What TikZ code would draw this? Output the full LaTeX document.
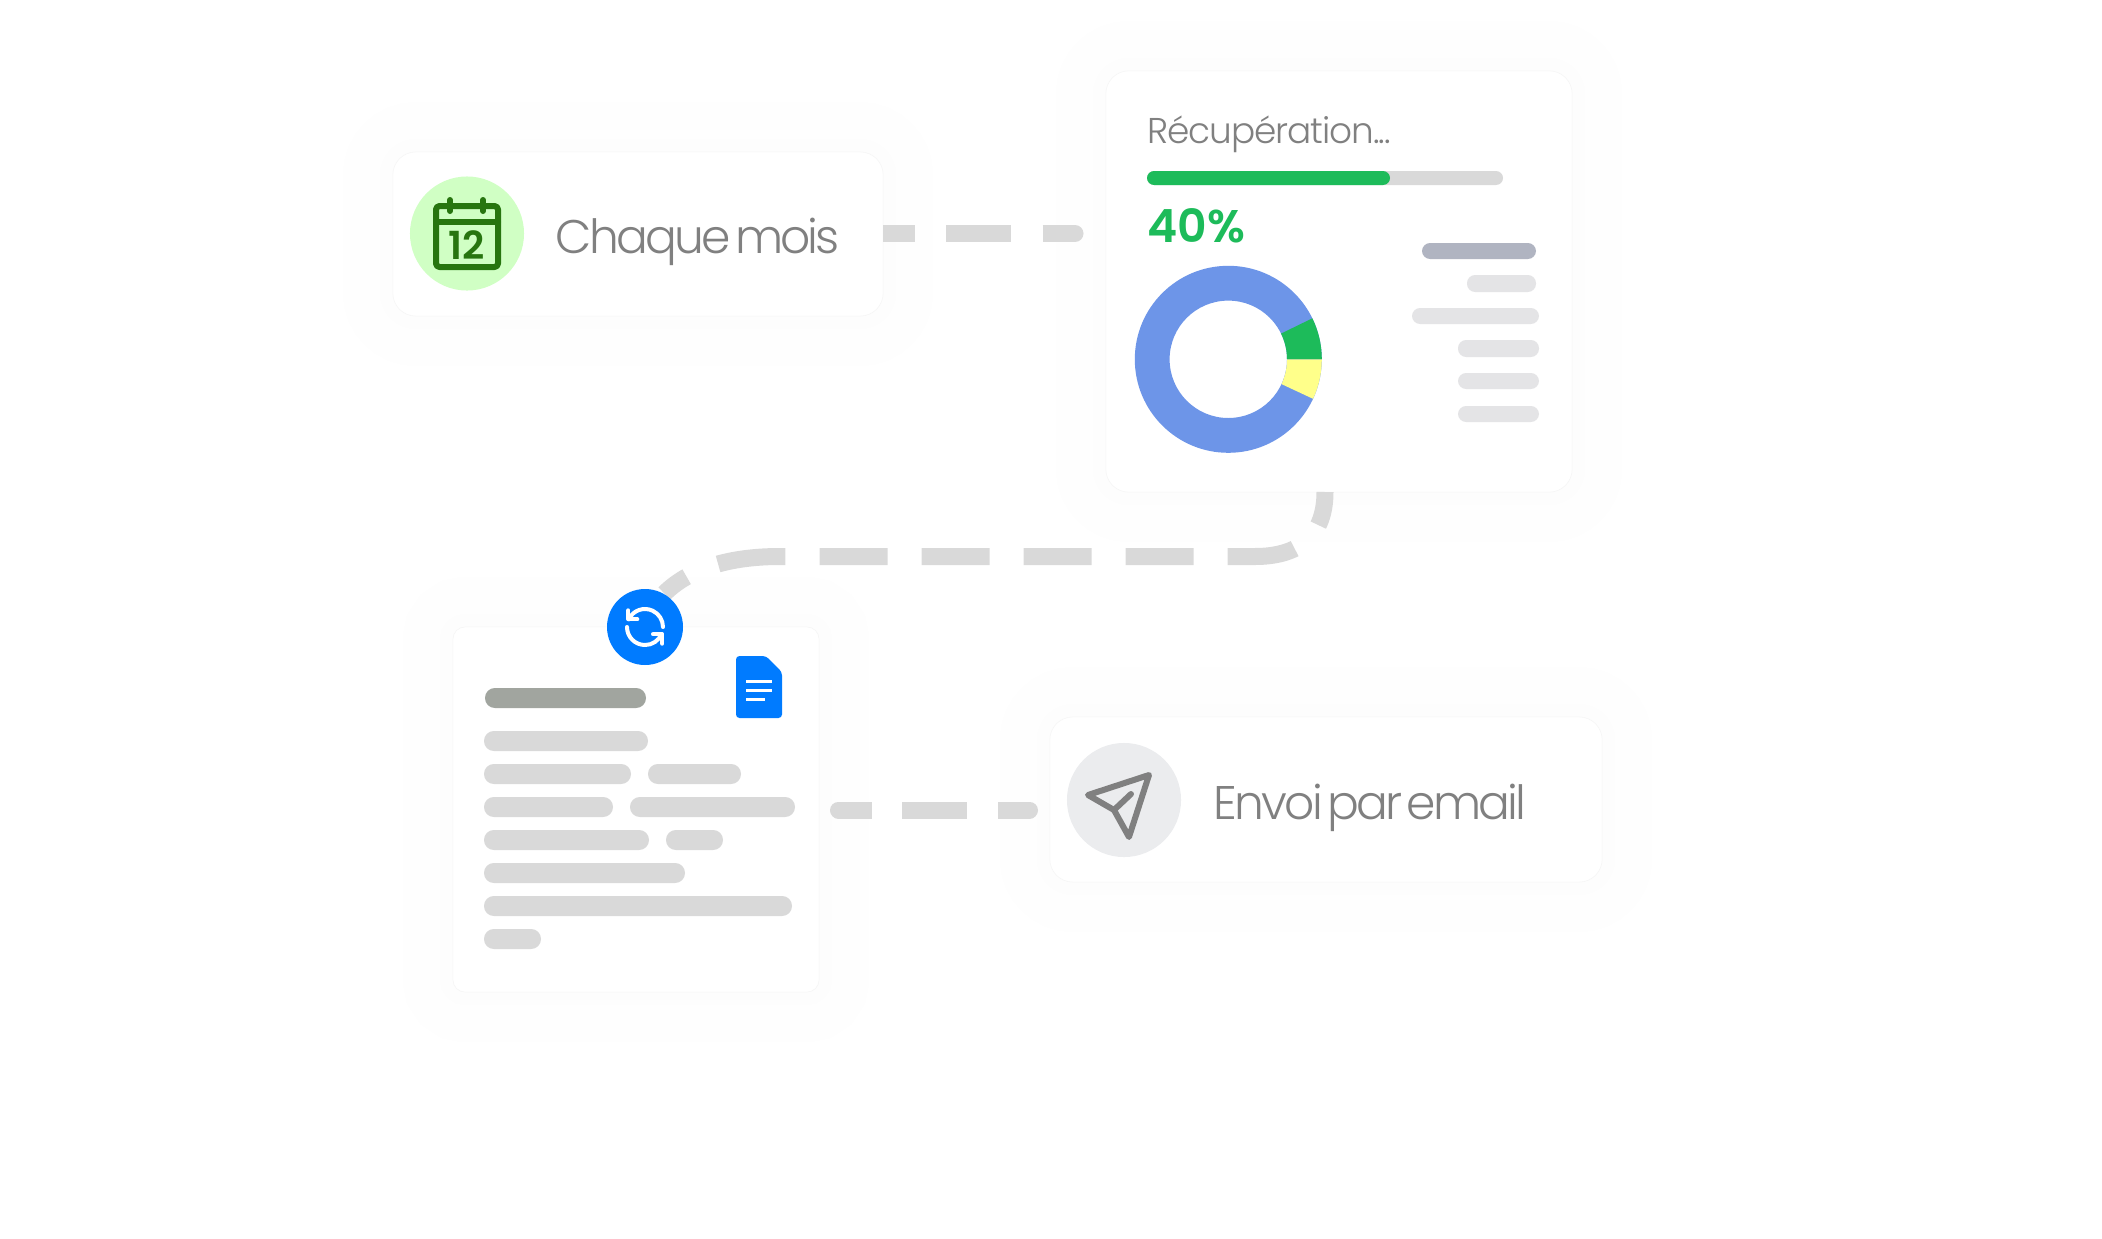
\documentclass[tikz,border=0pt]{standalone}
\usepackage{fontspec}
\newfontfamily\bigfont{Poppins}[UprightFont=* Light,LetterSpace=-6,WordSpace=0.45]
\newfontfamily\titlefont{Poppins}[UprightFont=* Light,LetterSpace=-3]
\newfontfamily\numfont{Poppins}[UprightFont=* SemiBold]
\definecolor{linkgray}{HTML}{D9D9D9}
\definecolor{skelgray}{HTML}{D9D9D9}
\definecolor{headgray}{HTML}{A1A59F}
\definecolor{legendgray}{HTML}{E4E4E6}
\definecolor{legendhead}{HTML}{B0B4C1}
\definecolor{mailgray}{HTML}{EBECEE}
\definecolor{okgreen}{HTML}{1DBB5A}
\definecolor{callight}{HTML}{D0FFC4}
\definecolor{caldark}{HTML}{27750F}
\definecolor{donutblue}{HTML}{6D95E8}
\definecolor{donutyellow}{HTML}{FFFF8A}
\definecolor{docblue}{HTML}{007BFF}
\definecolor{textgray}{HTML}{808080}
\tikzset{
  card/.style={rectangle,fill=white,draw=black!4,line width=0.15pt,rounded corners=6.5pt,inner sep=0pt,
    preaction={draw=black!0.3,line width=1.0cm},
    preaction={draw=black!0.5,line width=0.6cm},
    preaction={draw=black!0.8,line width=0.25cm}},
  skel/.style={fill=skelgray,rounded corners=2.8pt},
  legend/.style={fill=legendgray,rounded corners=2.3pt},
  link/.style={draw=linkgray,line width=0.17cm},
  bigtext/.style={font=\bigfont\fontsize{13.4pt}{16pt}\selectfont,text=textgray,inner sep=0pt,anchor=base west},
  badge/.style={circle,inner sep=0pt,minimum size=1.14cm},
  icon/.style={line width=0.06cm,line cap=round,line join=round},
  syncline/.style={white,line width=0.04cm,line cap=round,line join=round},
}
\begin{document}
\begin{tikzpicture}[x=0.01cm,y=-0.01cm]
  \useasboundingbox (0,0) rectangle (2102,1239);
  % cards
  \node[card,minimum width=4.9cm,minimum height=1.64cm] (month) at (638,234) {};
  \node[card,minimum width=4.66cm,minimum height=4.21cm] (report) at (1339,281.5) {};
  \node[card,minimum width=3.66cm,minimum height=3.65cm,rounded corners=3.5pt] (doc) at (636,809.5) {};
  \node[card,minimum width=5.52cm,minimum height=1.65cm] (mail) at (1326,799.5) {};
  \node[circle,inner sep=0pt,minimum size=0.76cm] (sync) at (645,627) {};

  % connectors
  \coordinate (monthstart) at (month.east |- 0,233.5);
  \coordinate (monthend) at (1074,233.5);
  \coordinate (reportout) at (1325,492);
  \coordinate (docout) at (838.5,810);
  \coordinate (mailin) at (1029.5,810);
  \draw[link,dash pattern=on 0.65cm off 0.31cm,dash phase=0.33cm] (monthstart) -- (monthend);
  \draw[link,line cap=round,dash pattern=on 0.01cm off 1cm] (monthend) -- ++(1,0);
  \draw[link,dash pattern=on 0.68cm off 0.34cm,dash phase=0.34cm] (reportout) .. controls (1325,535) and (1300,556.5) .. (1255,556.5) -- (780,556.5) .. controls (735,556.5) and (692,566) .. (sync.60);
  \draw[link,dash pattern=on 0.335cm off 0.30cm on 0.65cm off 0.31cm on 0.335cm off 1cm] (docout) -- (mailin);
  \draw[link,line cap=round,dash pattern=on 0.01cm off 3cm] (docout) -- ++(1,0);
  \draw[link,line cap=round,dash pattern=on 0.01cm off 3cm] (mailin) -- ++(-1,0);

  % month card
  \node[badge,fill=callight] (calcircle) at (467,233.5) {};
  \draw[caldark,icon,rounded corners=1pt] (436,206) rectangle (498,267);
  \draw[caldark,icon] (436,222) -- (498,222);
  \draw[caldark,icon] (450,200) -- (450,211);
  \draw[caldark,icon] (483,200) -- (483,211);
  \node[font=\numfont\fontsize{11pt}{12pt}\selectfont,text=caldark,inner sep=0pt] (calday) at (467,245.5) {12};
  \node[bigtext] (monthtext) at (555,253) {Chaque mois};

  % report card
  \node[bigtext,font=\titlefont\fontsize{10.2pt}{12pt}\selectfont] (reporttitle) at (1147,143) {Récupération...};
  \fill[skelgray,rounded corners=2pt] (1147,171) rectangle (1503,185);
  \fill[okgreen,rounded corners=2pt] (1147,171) rectangle (1390,185);
  \node[bigtext,font=\numfont\fontsize{13pt}{14pt}\selectfont,text=okgreen] (percent) at (1147,242) {40\%};
  \fill[donutblue,even odd rule] (1228.3,359.3) circle (93.5) (1228.3,359.3) circle (58.7);
  \fill[okgreen] (1228.3,359.3) ++(-26:93.5) arc[start angle=-26,end angle=0,radius=93.5] -- ++(-34.8,0) arc[start angle=0,end angle=-26,radius=58.7] -- cycle;
  \fill[donutyellow] (1228.3,359.3) ++(0:93.5) arc[start angle=0,end angle=25,radius=93.5] -- ++(-31.5,-14.7) arc[start angle=25,end angle=0,radius=58.7] -- cycle;
  \fill[legend,fill=legendhead] (1422,243) rectangle (1536,259);
  \fill[legend] (1467,275) rectangle (1536,292);
  \fill[legend] (1412,308) rectangle (1539,324);
  \fill[legend] (1458,340) rectangle (1539,357);
  \fill[legend] (1458,373) rectangle (1539,389);
  \fill[legend] (1458,406) rectangle (1539,422);

  % document card
  \fill[skel,fill=headgray] (485,688) rectangle (646,708);
  \fill[skel] (484,731) rectangle (648,751);
  \fill[skel] (484,764) rectangle (631,784);
  \fill[skel] (648,764) rectangle (741,784);
  \fill[skel] (484,797) rectangle (613,817);
  \fill[skel] (630,797) rectangle (795,817);
  \fill[skel] (484,830) rectangle (649,850);
  \fill[skel] (666,830) rectangle (723,850);
  \fill[skel] (484,863) rectangle (685,883);
  \fill[skel] (484,896) rectangle (792,916);
  \fill[skel] (484,929) rectangle (541,949);
  \fill[docblue,rounded corners=1pt] (736,656) -- (766,656) -- (782,672) -- (782,718) -- (736,718) -- cycle;
  \draw[white,line width=0.03cm] (746,681) -- (772,681);
  \draw[white,line width=0.03cm] (746,690) -- (772,690);
  \draw[white,line width=0.03cm] (746,699) -- (765,699);

  % sync badge
  \fill[docblue] (sync.center) circle (38);
  \draw[syncline] (sync) ++(-155:18) arc[start angle=-155,end angle=0,radius=18];
  \draw[syncline] (sync) ++(180:18) arc[start angle=180,end angle=23,radius=18];
  \draw[syncline] (sync) ++(-16.7,-16.7) -- ++(0,9) -- ++(9,0);
  \draw[syncline] (sync) ++(8,7.3) -- ++(9.3,0) -- ++(0,9.4);

  % mail card
  \node[badge,fill=mailgray] (mailcircle) at (1124,800) {};
  \draw[textgray,icon] (1149,775) -- (1088,795) -- (1114,810) -- (1129,837) -- cycle;
  \draw[textgray,icon] (1114,810) -- (1131,794);
  \node[bigtext] (mailtext) at (1213,819) {Envoi par email};
\end{tikzpicture}
\end{document}
